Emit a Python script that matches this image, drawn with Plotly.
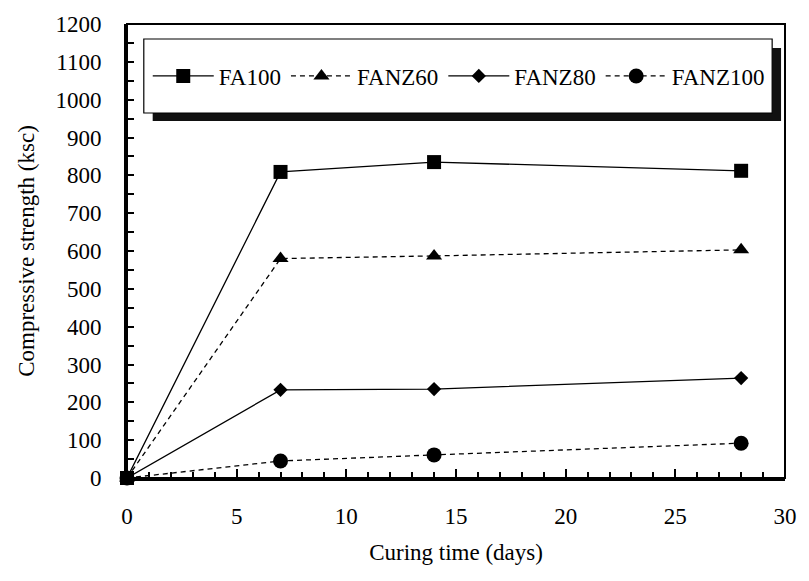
import plotly.graph_objects as go

days = [0, 7, 14, 28]
fa100 = [0, 809, 835, 812]
fanz60 = [0, 580, 587, 603]
fanz80 = [0, 233, 235, 264]
fanz100 = [0, 45, 61, 92]

series = [
    ("FA100", fa100, "solid", "square", 14),
    ("FANZ60", fanz60, "5px,4px", "triangle-up", 14),
    ("FANZ80", fanz80, "solid", "diamond", 11),
    ("FANZ100", fanz100, "5px,4px", "circle", 15),
]

FONT = "Liberation Serif"

fig = go.Figure()
for name, vals, dash, sym, sz in series:
    fig.add_trace(go.Scatter(
        x=days, y=vals, name=name, mode="lines+markers",
        line=dict(color="black", width=1.3, dash=dash),
        marker=dict(symbol=sym, size=sz, color="black"),
        cliponaxis=False,
    ))

W, H = 809, 581
L, R, T, B = 127, 16, 24, 103
pw, ph = W - L - R, H - T - B

def px(x):
    return (x - L) / pw

def py(y):
    return 1 - (y - T) / ph

# legend shadow and box
fig.add_shape(type="rect", xref="paper", yref="paper",
              x0=px(153), x1=px(789), y0=py(121), y1=py(48),
              fillcolor="#111111", line=dict(width=0), layer="above")
fig.add_shape(type="rect", xref="paper", yref="paper",
              x0=px(144), x1=px(780), y0=py(113), y1=py(39),
              fillcolor="white", line=dict(color="black", width=1.2), layer="above")
# frame
fig.add_shape(type="rect", xref="paper", yref="paper",
              x0=0, x1=1, y0=0, y1=1,
              line=dict(color="black", width=2), layer="above")

fig.update_layout(
    width=W, height=H,
    margin=dict(l=L, r=R, t=T, b=B),
    paper_bgcolor="white", plot_bgcolor="white",
    font=dict(family=FONT, size=23, color="black"),
    showlegend=True,
    legend=dict(
        orientation="h", x=px(148), y=py(76), xanchor="left", yanchor="middle",
        bgcolor="rgba(0,0,0,0)", borderwidth=0,
        itemwidth=61, font=dict(family=FONT, size=23, color="black"),
        itemclick=False, itemdoubleclick=False,
    ),
    xaxis=dict(
        range=[0, 30], dtick=5, tick0=0,
        showgrid=False, zeroline=False,
        showline=True, linecolor="black", linewidth=3,
        ticks="inside", ticklen=9, tickwidth=1.5, tickcolor="black",
        minor=dict(dtick=1, ticks="inside", ticklen=6, tickwidth=1.5, tickcolor="black"),
        ticklabelstandoff=15,
        tickfont=dict(family=FONT, size=23),
        title=dict(text="Curing time (days)", standoff=17, font=dict(family=FONT, size=23)),
    ),
    yaxis=dict(
        range=[0, 1200], dtick=100, tick0=0,
        showgrid=False, zeroline=False,
        showline=True, linecolor="black", linewidth=3,
        ticks="inside", ticklen=7, tickwidth=1.5, tickcolor="black",
        minor=dict(dtick=50, ticks="inside", ticklen=7, tickwidth=1.5, tickcolor="black"),
        ticklabelstandoff=18,
        tickfont=dict(family=FONT, size=23),
        title=dict(text="Compressive strength (ksc)", standoff=15, font=dict(family=FONT, size=23)),
    ),
)

fig.write_html(
    "out.html",
    config={"displayModeBar": False},
    post_script="document.body.style.margin='0';document.body.style.overflow='hidden';",
)
